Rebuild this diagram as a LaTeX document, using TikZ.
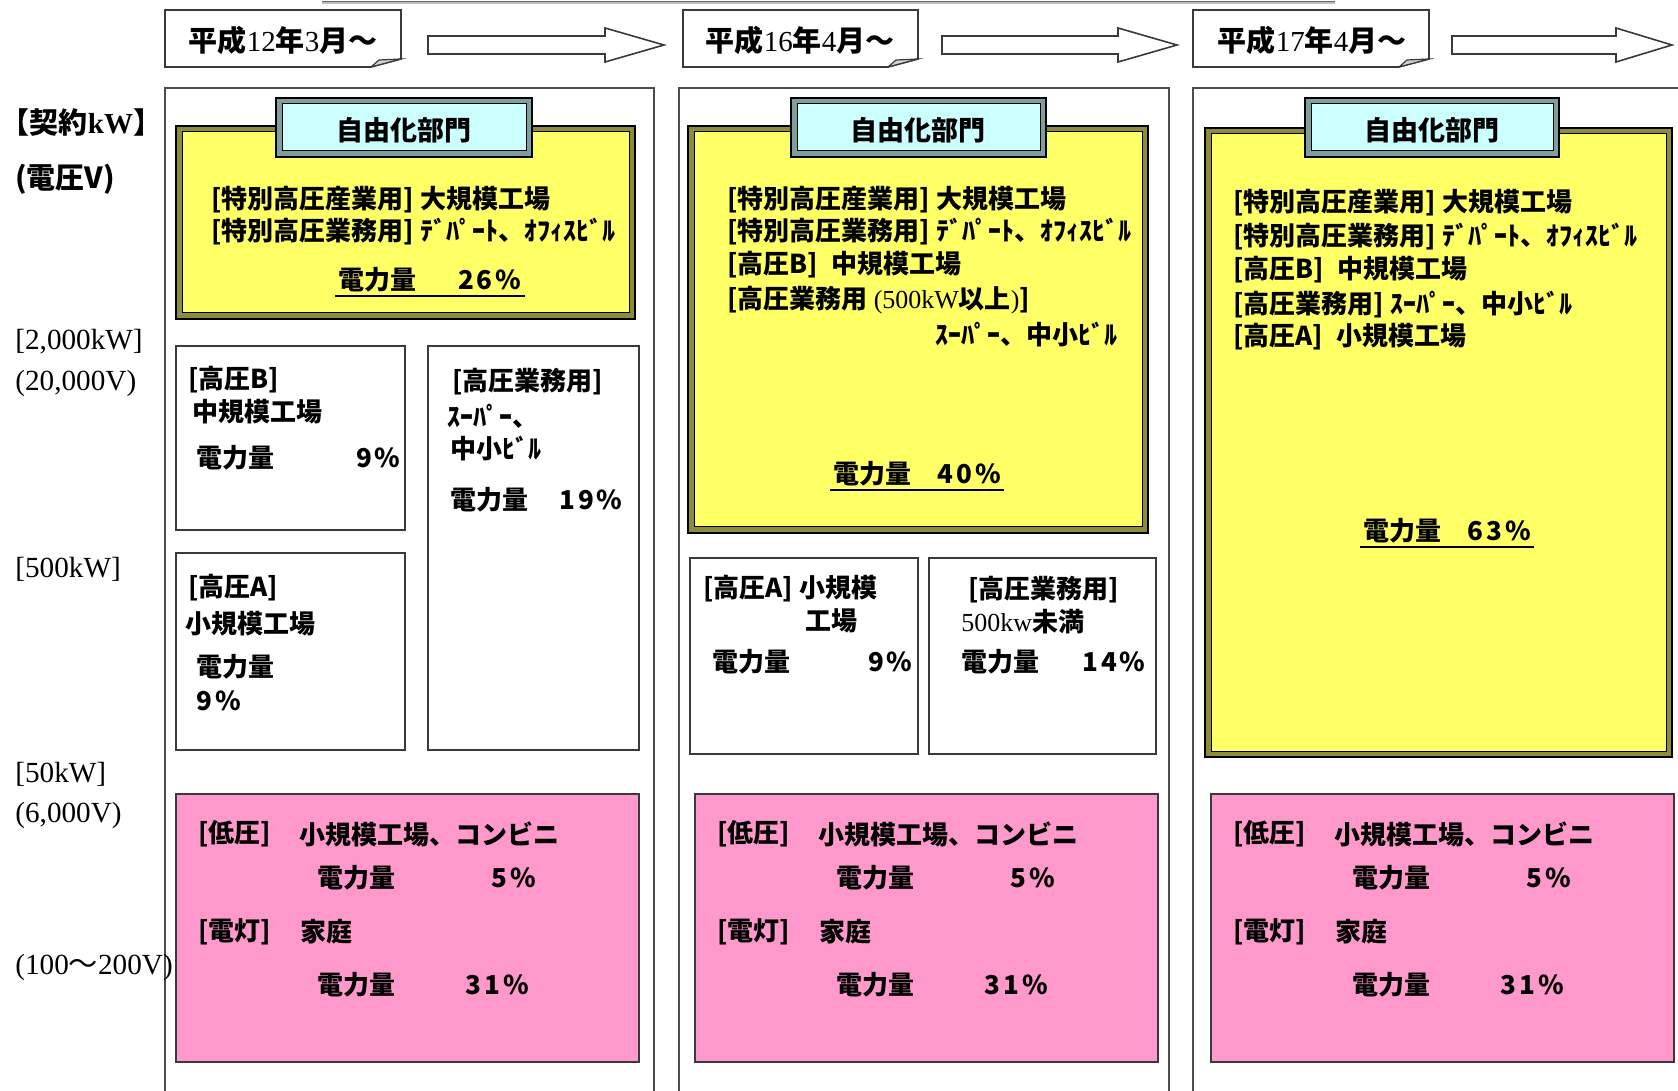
\documentclass[tikz,border=0pt]{standalone}
\usepackage{fontspec}
\setmainfont{Noto Sans CJK JP}
\newfontfamily\ser{Liberation Serif}
\newfontfamily\numf{Noto Sans CJK JP}[LetterSpace=12]
\usetikzlibrary{calc}
\definecolor{yel}{HTML}{FFFF66}
\definecolor{cyn}{HTML}{CCFFFF}
\definecolor{pnk}{HTML}{FF99CC}
\definecolor{olv}{HTML}{8C8C3A}
\definecolor{tband}{HTML}{7F9F9F}
\definecolor{edge}{HTML}{3A3A3A}
\tikzset{
 txt/.style={anchor=west,inner sep=0pt,font=\bfseries\fontsize{13}{15}\selectfont},
 txte/.style={txt,anchor=east},
 txtc/.style={txt,anchor=center,inner sep=1.5pt},
 lbl/.style={anchor=west,inner sep=0pt,font=\ser\fontsize{14.6}{16}\selectfont},
 lblb/.style={anchor=west,inner sep=0pt,font=\bfseries\fontsize{14.5}{16}\selectfont},
 datet/.style={inner sep=0pt,font=\bfseries\fontsize{14.5}{16}\selectfont},
 tabt/.style={inner sep=0pt,font=\bfseries\fontsize{13.5}{16}\selectfont},
 colframe/.style={draw=gray!60!black,line width=0.8pt},
 wbox/.style={draw=edge,line width=0.9pt,fill=white},
 pbox/.style={draw=edge,line width=0.9pt,fill=pnk},
 blockarrow/.style={draw=edge,line width=0.8pt,fill=white},
 datebox/.style={draw=edge,line width=0.8pt,fill=white},
}
\newcommand\ybox[4]{%
 \fill[yel] (#1,#2) rectangle (#3,#4);
 \draw[olv,line width=2.5pt] ($(#1,#2)+(3.5,3.5)$) rectangle ($(#3,#4)+(-3.5,-3.5)$);
 \draw[black,line width=1pt] (#1,#2) rectangle (#3,#4);
 \draw[black,line width=0.5pt] ($(#1,#2)+(6,6)$) rectangle ($(#3,#4)+(-6,-6)$);}
\newcommand\tbox[4]{%
 \fill[cyn] (#1,#2) rectangle (#3,#4);
 \draw[tband,line width=2.5pt] ($(#1,#2)+(3.5,3.5)$) rectangle ($(#3,#4)+(-3.5,-3.5)$);
 \draw[black,line width=1pt] (#1,#2) rectangle (#3,#4);
 \draw[black,line width=0.5pt] ($(#1,#2)+(6,6)$) rectangle ($(#3,#4)+(-6,-6)$);}
\newcommand\dbox[2]{%
 \draw[datebox] (#1,10) -- (#2,10) -- (#2,59) -- ($(#2,67)+(-30,0)$) -- (#1,67) -- cycle;
 \draw[edge,line width=0.6pt,fill=gray!35] ($(#2,67)+(-30,0)$) -- ($(#2,60)+(-22,0)$) -- (#2,59) -- cycle;}
\newcommand\barrow[3]{%
 \draw[blockarrow] (#1,36) -- (#2,36) -- (#2,28) -- (#3,45) -- (#2,62) -- (#2,54) -- (#1,54) -- cycle;}
\newcommand\pinkblock[2]{%
 \begin{scope}[shift={(#2,0)}]
 \draw[pbox] (176,794) rectangle (639,1062);
 \node[txt] (#1a) at (198,834) {[低圧]};
 \node[txt] (#1b) at (299,834) {小規模工場、コンビニ};
 \node[txt] (#1c) at (317,878) {電力量};
 \node[txt] (#1d) at (491,878) {\numf 5\%};
 \node[txt] (#1e) at (198,932) {[電灯]};
 \node[txt] (#1f) at (300,932) {家庭};
 \node[txt] (#1g) at (317,985) {電力量};
 \node[txt] (#1h) at (465,985) {\numf 31\%};
 \end{scope}}
\begin{document}
\begin{tikzpicture}[x=0.5pt,y=-0.5pt]
\useasboundingbox (0,0) rectangle (1678,1091);
\fill[white] (0,0) rectangle (1678,1091);
% top cut-off line
\draw[gray!50,line width=1.2pt] (322,3) -- (1335,3);
\draw[gray!80!black,line width=0.6pt] (322,1.5) -- (1335,1.5);
% column frames
\draw[colframe] (165,1095) -- (165,88) -- (654,88) -- (654,1095);
\draw[colframe] (679,1095) -- (679,88) -- (1169,88) -- (1169,1095);
\draw[colframe] (1193,1095) -- (1193,88) -- (1685,88);
% date boxes and arrows
\dbox{165}{401}
\dbox{683}{918}
\dbox{1193}{1429}
\node[datet] (d1) at (283,40) {平成{\ser\mdseries 12}年{\ser\mdseries 3}月～};
\node[datet] (d2) at (800,40) {平成{\ser\mdseries 16}年{\ser\mdseries 4}月～};
\node[datet] (d3) at (1312,40) {平成{\ser\mdseries 17}年{\ser\mdseries 4}月～};
\barrow{428}{605}{664}
\barrow{942}{1118}{1177}
\barrow{1452}{1616}{1672}
% left labels
\node[lblb] (k1) at (15,123) {\kern-0.5em【契約{\ser kW}】};
\node[lblb] (k2) at (15,179) {(電圧V)};
\node[lbl] (k3) at (15,342) {[2,000kW]};
\node[lbl] (k4) at (15,383) {(20,000V)};
\node[lbl] (k5) at (15,569) {[500kW]};
\node[lbl] (k6) at (15,774) {[50kW]};
\node[lbl] (k7) at (15,815) {(6,000V)};
\node[lbl] (k8) at (15,967) {(100{\rmfamily ～}200V)};
% ---------- column 1 ----------
\ybox{176}{126}{635}{319}
\tbox{276}{98}{532}{157}
\node[tabt] (t1) at (404,130) {自由化部門};
\begin{scope}
\clip (176,126) rectangle (629,319);
\node[txt] (a1) at (211,200) {[特別高圧産業用] 大規模工場};
\node[txt] (a2) at (211,232) {[特別高圧業務用] ﾃﾞﾊﾟｰﾄ、ｵﾌｨｽﾋﾞﾙ};
\end{scope}
\node[txtc] (a3) at (430,280) {電力量\hspace{1.6em}{\numf 26\%}};
\draw[black,line width=0.8pt] (a3.south west) -- (a3.south east);
\draw[wbox] (176,346) rectangle (405,530);
\node[txt] (b1) at (188,380) {[高圧B]};
\node[txt] (b2) at (192,412) {中規模工場};
\node[txt] (b3) at (196,458) {電力量};
\node[txte] (b4) at (401,458) {\numf 9\%};
\draw[wbox] (428,346) rectangle (639,750);
\node[txt] (c1) at (452,382) {[高圧業務用]};
\node[txt] (c2) at (447,416) {ｽｰﾊﾟｰ、};
\node[txt] (c3) at (450,449) {中小ﾋﾞﾙ};
\node[txt] (c4) at (450,500) {電力量};
\node[txte] (c5) at (623,500) {\numf 19\%};
\draw[wbox] (176,553) rectangle (405,750);
\node[txt] (e1) at (188,588) {[高圧A]};
\node[txt] (e2) at (185,624) {小規模工場};
\node[txt] (e3) at (196,667) {電力量};
\node[txt] (e4) at (196,701) {\numf 9\%};
\pinkblock{pa}{0}
% ---------- column 2 ----------
\ybox{688}{126}{1148}{533}
\tbox{791}{98}{1046}{157}
\node[tabt] (t2) at (918,130) {自由化部門};
\begin{scope}
\clip (688,126) rectangle (1142,533);
\node[txt] (f1) at (727,200) {[特別高圧産業用] 大規模工場};
\node[txt] (f2) at (727,232) {[特別高圧業務用] ﾃﾞﾊﾟｰﾄ、ｵﾌｨｽﾋﾞﾙ};
\end{scope}
\node[txt] (f3) at (727,265) {[高圧B]\hspace{0.5em}中規模工場};
\node[txt] (f4) at (727,300) {[高圧業務用 {\ser\mdseries (500kW}以上{\ser\mdseries )}]};
\node[txte] (f5) at (1118,335) {ｽｰﾊﾟｰ、中小ﾋﾞﾙ};
\node[txtc] (f6) at (917,474) {電力量\hspace{1em}{\numf 40\%}};
\draw[black,line width=0.8pt] (f6.south west) -- (f6.south east);
\draw[wbox] (690,558) rectangle (918,754);
\node[txt] (g1) at (703,589) {[高圧A] 小規模};
\node[txt] (g2) at (805,621) {工場};
\node[txt] (g3) at (712,662) {電力量};
\node[txte] (g4) at (913,662) {\numf 9\%};
\draw[wbox] (929,558) rectangle (1156,754);
\node[txt] (h1) at (968,590) {[高圧業務用]};
\node[txt] (h2) at (961,622) {{\ser\mdseries 500kw}未満};
\node[txt] (h3) at (961,662) {電力量};
\node[txte] (h4) at (1146,662) {\numf 14\%};
\pinkblock{pb}{519}
% ---------- column 3 ----------
\ybox{1205}{128}{1672}{757}
\tbox{1305}{98}{1559}{157}
\node[tabt] (t3) at (1432,130) {自由化部門};
\node[txt] (m1) at (1233,203) {[特別高圧産業用] 大規模工場};
\node[txt] (m2) at (1233,237) {[特別高圧業務用] ﾃﾞﾊﾟｰﾄ、ｵﾌｨｽﾋﾞﾙ};
\node[txt] (m3) at (1233,270) {[高圧B]\hspace{0.5em}中規模工場};
\node[txt] (m4) at (1233,305) {[高圧業務用] ｽｰﾊﾟｰ、中小ﾋﾞﾙ};
\node[txt] (m5) at (1233,337) {[高圧A]\hspace{0.5em}小規模工場};
\node[txtc] (m6) at (1447,531) {電力量\hspace{1em}{\numf 63\%}};
\draw[black,line width=0.8pt] (m6.south west) -- (m6.south east);
\pinkblock{pc}{1035}
\end{tikzpicture}
\end{document}
